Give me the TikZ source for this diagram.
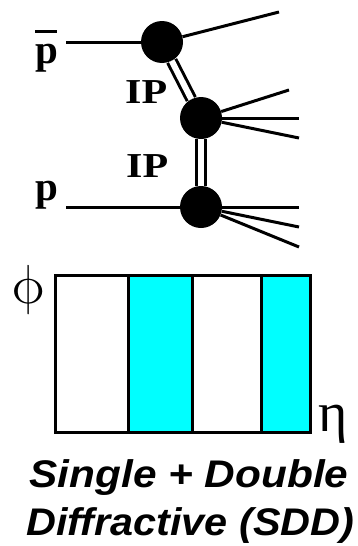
\documentclass[tikz,border=0pt]{standalone}
\usepackage{fontspec}
\setmainfont{Liberation Serif}
\newfontfamily\capfont{Liberation Sans}
\definecolor{aqua}{RGB}{0,255,255}
\begin{document}
\begin{tikzpicture}[x=1pt,y=-1pt,
  blob/.style={circle,fill=black,minimum size=42pt,inner sep=0pt},
  ln/.style={line width=3pt},
  pom/.style={double=white,double distance=6pt,line width=3pt},
  lbl/.style={inner sep=0pt,anchor=base west,font=\fontsize{41}{41}\selectfont\bfseries},
  iplbl/.style={inner sep=0pt,anchor=base west,font=\fontsize{35}{35}\selectfont\bfseries,xscale=1.2,transform shape},
  captext/.style={inner sep=0pt,font=\fontsize{38.5}{38.5}\selectfont\capfont\bfseries\itshape,transform shape}]
\useasboundingbox (0,0) rectangle (357,546);
% vertices
\node[blob] (b1) at (162,42) {};
\node[blob] (b2) at (201,118) {};
\node[blob] (b3) at (201,207) {};
% free ends
\coordinate (pin) at (66,42);
\coordinate (t1) at (279,12);
\coordinate (m1) at (289,90);
\coordinate (m2) at (299,118);
\coordinate (m3) at (299,138);
\coordinate (qin) at (66,207);
\coordinate (o1) at (299,207);
\coordinate (o2) at (299,227);
\coordinate (o3) at (299,247);
\draw[ln] (pin) -- (b1);
\draw[ln] (b1) -- (t1);
\draw[ln] (b2) -- (m1);
\draw[ln] (b2) -- (m2);
\draw[ln] (b2) -- (m3);
\draw[ln] (qin) -- (b3);
\draw[ln] (b3) -- (o1);
\draw[ln] (b3) -- (o2);
\draw[ln] (b3) -- (o3);
\draw[pom] (b1) -- (b2);
\draw[pom] (b2) -- (b3);
% labels
\node[lbl] (pbar) at (35,63) {\rlap{\raisebox{30pt}{\rule{22pt}{3pt}}}p};
\node[lbl] (p) at (35,200) {p};
\node[iplbl] (ip1) at (125,103) {IP};
\node[iplbl] (ip2) at (126,177) {IP};
% eta-phi plot
\fill[aqua] (128,275) rectangle (192,432);
\fill[aqua] (261,275) rectangle (310,432);
\draw[ln] (55,275) rectangle (310,432);
\draw[ln] (128,275) -- (128,432);
\draw[ln] (192,275) -- (192,432);
\draw[ln] (261,275) -- (261,432);
\node[inner sep=0pt,anchor=base,xslant=-0.25,transform shape] (phi) at (31,303) {\scalebox{5.5}{$\phi$}};
\node[inner sep=0pt,anchor=base west,font=\fontsize{56}{56}\selectfont] (eta) at (318,431) {η};
\node[captext,anchor=base,xscale=1.1] (c1) at (189,487) {Single + Double};
\node[captext,anchor=base west,xscale=1.075] (c2) at (26,535) {Diffractive (SDD)};
\end{tikzpicture}
\end{document}
